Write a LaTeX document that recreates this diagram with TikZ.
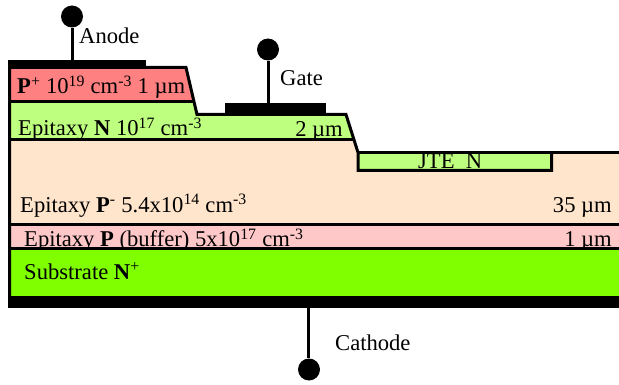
\documentclass[tikz,border=0pt]{standalone}
\usepackage{fontspec}
\setmainfont{Liberation Serif}
\definecolor{pplus}{HTML}{FF8080}
\definecolor{nepi}{HTML}{BFFF80}
\definecolor{pminus}{HTML}{FFE5CC}
\definecolor{pbuf}{HTML}{FFC8C8}
\definecolor{nsub}{HTML}{80FF00}
\newcommand{\sps}[1]{\textsuperscript{#1}}
\tikzset{
  lbl/.style={anchor=base west,inner sep=0pt,font=\fontsize{22.6}{26}\selectfont},
  lblr/.style={anchor=base east,inner sep=0pt,font=\fontsize{22.6}{26}\selectfont},
  edge/.style={line width=3pt,line cap=butt,line join=miter},
  contact/.style={fill=black,inner sep=0pt,draw=none,anchor=north west},
  ball/.style={circle,fill=black,inner sep=0pt,minimum size=22pt,draw=none},
  lead/.style={line width=3pt,line cap=butt}
}
\begin{document}
\begin{tikzpicture}[x=1pt,y=-1pt]
\useasboundingbox (0,0) rectangle (619,385);
% fills
\fill[pminus] (9.5,140) -- (355,140) -- (358,152.5) -- (619,152.5) -- (619,224.5) -- (9.5,224.5) -- cycle;
\fill[pplus] (9.5,67.5) -- (186,67.5) -- (193,101.5) -- (9.5,101.5) -- cycle;
\fill[nepi] (9.5,101.5) -- (193,101.5) -- (197,114.5) -- (346,114.5) -- (354.5,140) -- (9.5,140) -- cycle;
\fill[nepi] (358,152.5) rectangle (551.5,170.5);
\fill[pbuf] (9.5,224.5) rectangle (619,248.5);
% buffer text sits under the substrate fill
\node[lbl] (tbuf) at (24,247) {Epitaxy \textbf{P} (buffer) 5x10\sps{17} cm\sps{-3}};
\node[lblr] (tbufw) at (612,246) {1 µm};
\fill[nsub] (9.5,248.5) rectangle (619,297);
% JTE text under its outline
\node[lbl] (tjte) at (418,169) {JTE\ \ N};
% outlines
\draw[edge] (9.5,300) -- (9.5,67.5) -- (186,67.5) -- (197,114.5) -- (346,114.5) -- (358,152.5) -- (358,170.5) -- (551.5,170.5) -- (551.5,152.5);
\draw[edge] (358,152.5) -- (619,152.5);
\draw[edge] (8,101.5) -- (193,101.5);
\draw[edge] (8,140) -- (355,140);
\draw[edge] (8,224.5) -- (619,224.5);
\draw[edge] (8,248.5) -- (619,248.5);
% contacts
\node[contact,minimum width=138pt,minimum height=7pt] (anodepad) at (8,60) {};
\node[contact,minimum width=101pt,minimum height=11pt] (gatepad) at (225,103) {};
\node[contact,minimum width=611pt,minimum height=12pt] (cathpad) at (8,296) {};
% terminals
\node[ball] (anodeball) at (72,16.5) {};
\node[ball] (gateball) at (268,49.5) {};
\node[ball] (cathball) at (309,369.5) {};
\coordinate (anodefoot) at (72,60);
\coordinate (gatefoot) at (268,103);
\coordinate (cathfoot) at (308.5,308);
\draw[lead] (anodeball) -- (anodefoot);
\draw[lead] (gateball) -- (gatefoot);
\draw[lead] (cathfoot) -- (cathball.north-|cathfoot);
% labels
\node[lbl] (tanode) at (79,44) {Anode};
\node[lbl] (tgate) at (280,86) {Gate};
\node[lbl] (tcath) at (335,350) {Cathode};
\node[lbl] (tp) at (17,94) {\textbf{P}\sps{+} 10\sps{19} cm\sps{-3} 1 µm};
\node[lbl] (tn) at (18,136) {Epitaxy \textbf{N} 10\sps{17} cm\sps{-3}};
\node[lblr] (tnw) at (343,137) {2 µm};
\node[lbl] (tpm) at (20,212) {Epitaxy \textbf{P}\sps{-} 5.4x10\sps{14} cm\sps{-3}};
\node[lblr] (tpmw) at (612,212) {35 µm};
\node[lbl] (tsub) at (24,279) {Substrate \textbf{N}\sps{+}};
\end{tikzpicture}
\end{document}
